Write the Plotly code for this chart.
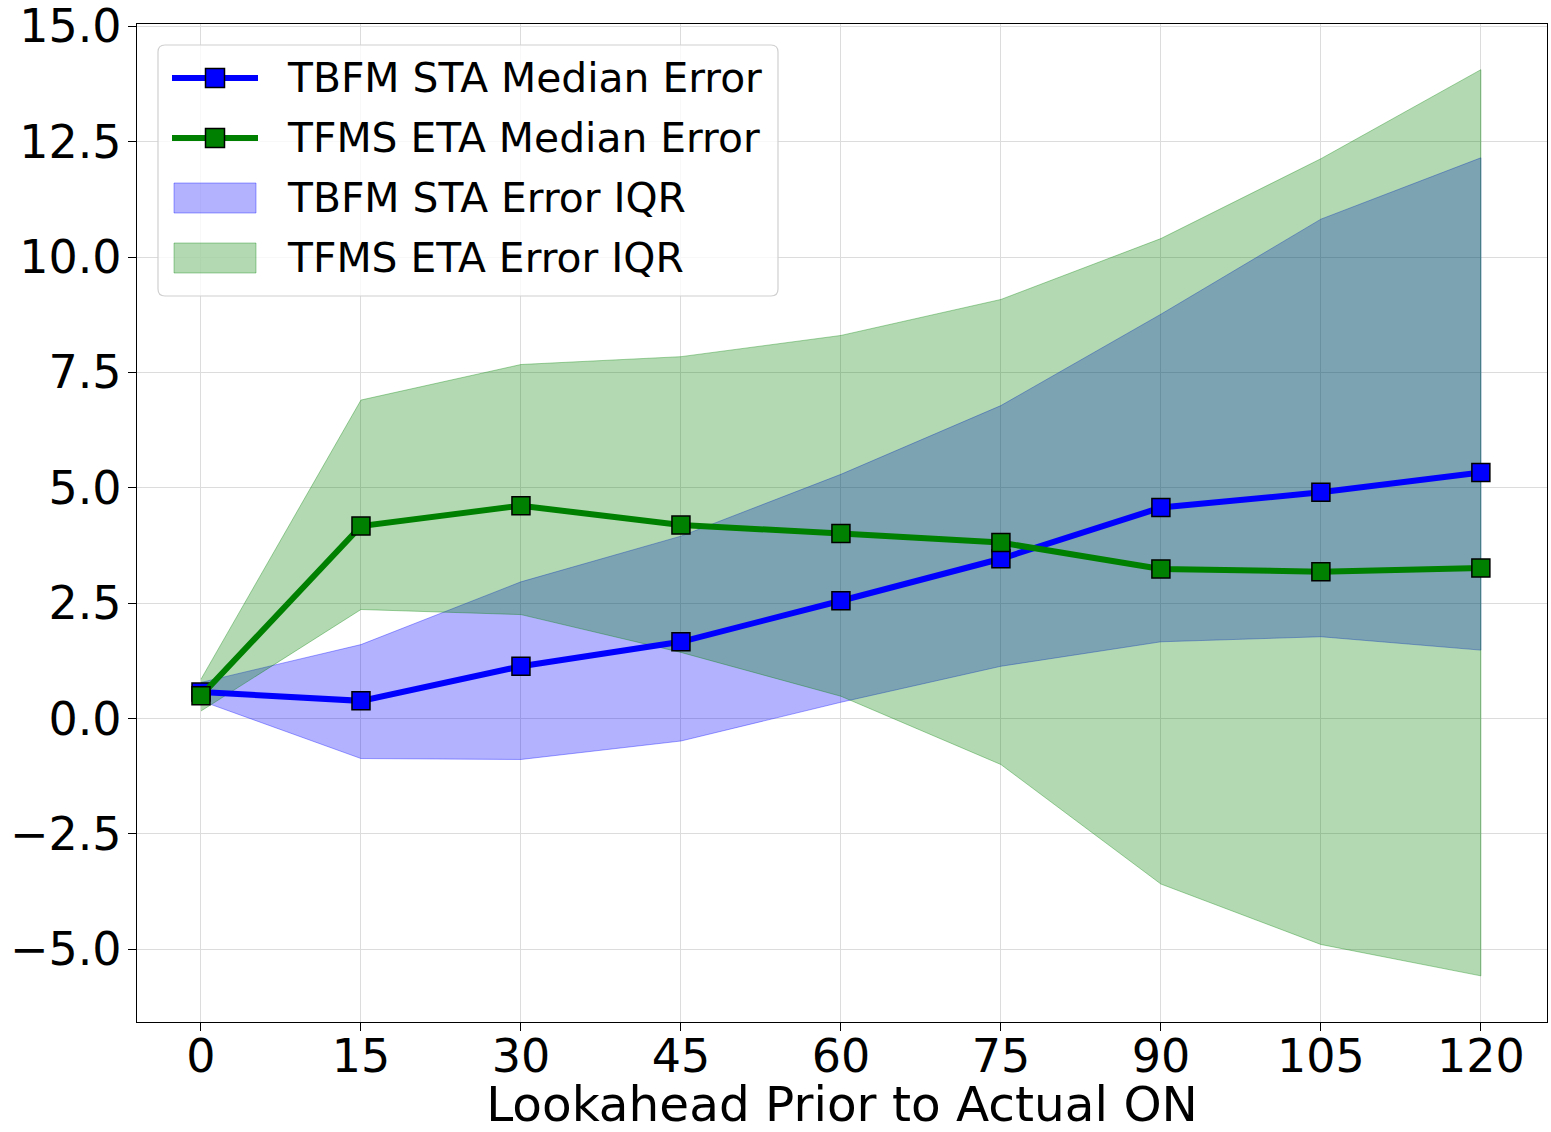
import plotly.graph_objects as go

lookahead = [0, 15, 30, 45, 60, 75, 90, 105, 120]

tbfm_median = [0.57, 0.38, 1.13, 1.66, 2.55, 3.46, 4.57, 4.90, 5.33]
tfms_median = [0.49, 4.17, 4.61, 4.19, 4.01, 3.81, 3.24, 3.18, 3.26]

tbfm_q1 = [0.38, -0.87, -0.89, -0.49, 0.35, 1.13, 1.66, 1.77, 1.48]
tbfm_q3 = [0.78, 1.60, 2.96, 3.95, 5.29, 6.78, 8.76, 10.82, 12.15]

tfms_q1 = [0.16, 2.36, 2.25, 1.43, 0.48, -1.00, -3.59, -4.90, -5.58]
tfms_q3 = [0.85, 6.90, 7.67, 7.84, 8.30, 9.08, 10.40, 12.13, 14.06]

x_ticks = [0, 15, 30, 45, 60, 75, 90, 105, 120]
y_ticks = [-5.0, -2.5, 0.0, 2.5, 5.0, 7.5, 10.0, 12.5, 15.0]

legend_labels = ["TBFM STA Median Error", "TFMS ETA Median Error",
                 "TBFM STA Error IQR", "TFMS ETA Error IQR"]

FONT = "DejaVu Sans"
BLUE = "#0000ff"
GREEN = "#008000"
BLUE_FILL = "rgba(0,0,255,0.3)"
GREEN_FILL = "rgba(0,128,0,0.3)"

W, H = 1551, 1132
ML, MR, MT, MB = 137, 4, 24, 110
PW, PH = W - ML - MR, H - MT - MB


def px(x):
    return (x - ML) / PW


def py(y):
    return (H - MB - y) / PH


fig = go.Figure()

# IQR bands (blue first, green over it)
fig.add_trace(go.Scatter(
    x=lookahead + lookahead[::-1],
    y=tbfm_q3 + tbfm_q1[::-1],
    fill="toself", mode="lines",
    fillcolor=BLUE_FILL,
    line=dict(color="rgba(0,0,255,0.35)", width=1),
    name=legend_labels[2], showlegend=False,
))
fig.add_trace(go.Scatter(
    x=lookahead + lookahead[::-1],
    y=tfms_q3 + tfms_q1[::-1],
    fill="toself", mode="lines",
    fillcolor=GREEN_FILL,
    line=dict(color="rgba(0,128,0,0.35)", width=1),
    name=legend_labels[3], showlegend=False,
))

# Median lines
fig.add_trace(go.Scatter(
    x=lookahead, y=tbfm_median, mode="lines+markers",
    line=dict(color=BLUE, width=6),
    marker=dict(symbol="square", size=18, color=BLUE,
                line=dict(color="black", width=1.5)),
    name=legend_labels[0], showlegend=False,
))
fig.add_trace(go.Scatter(
    x=lookahead, y=tfms_median, mode="lines+markers",
    line=dict(color=GREEN, width=6),
    marker=dict(symbol="square", size=18, color=GREEN,
                line=dict(color="black", width=1.5)),
    name=legend_labels[1], showlegend=False,
))

# ---- legend drawn with shapes + annotations (matplotlib style) ----
shapes = []
bx0, bx1, by0, by1, r = 158, 778, 45, 296, 7
path = (f"M {px(bx0 + r)},{py(by0)} L {px(bx1 - r)},{py(by0)} "
        f"Q {px(bx1)},{py(by0)} {px(bx1)},{py(by0 + r)} "
        f"L {px(bx1)},{py(by1 - r)} Q {px(bx1)},{py(by1)} {px(bx1 - r)},{py(by1)} "
        f"L {px(bx0 + r)},{py(by1)} Q {px(bx0)},{py(by1)} {px(bx0)},{py(by1 - r)} "
        f"L {px(bx0)},{py(by0 + r)} Q {px(bx0)},{py(by0)} {px(bx0 + r)},{py(by0)} Z")
shapes.append(dict(type="path", xref="paper", yref="paper", path=path,
                   fillcolor="rgba(255,255,255,0.8)",
                   line=dict(color="#d0d0d0", width=1.2), layer="above"))

rows = [78, 138, 198, 258]
line_colors = [BLUE, GREEN]
for i in range(2):
    yy = rows[i]
    shapes.append(dict(type="line", xref="paper", yref="paper",
                       x0=px(172), x1=px(258), y0=py(yy), y1=py(yy),
                       line=dict(color=line_colors[i], width=6), layer="above"))
    s = 9.5
    shapes.append(dict(type="rect", xref="paper", yref="paper",
                       x0=px(215 - s), x1=px(215 + s), y0=py(yy + s), y1=py(yy - s),
                       fillcolor=line_colors[i], line=dict(color="black", width=1.5),
                       layer="above"))
fill_cols = [(BLUE_FILL, "rgba(0,0,255,0.35)"), (GREEN_FILL, "rgba(0,128,0,0.35)")]
for j in range(2):
    yy = rows[2 + j]
    shapes.append(dict(type="rect", xref="paper", yref="paper",
                       x0=px(174), x1=px(256), y0=py(yy + 15), y1=py(yy - 15),
                       fillcolor=fill_cols[j][0], line=dict(color=fill_cols[j][1], width=1),
                       layer="above"))

annotations = []
for i, lab in enumerate(legend_labels):
    annotations.append(dict(
        text=lab, xref="paper", yref="paper", x=px(285), y=py(rows[i]),
        xanchor="left", yanchor="middle", showarrow=False,
        font=dict(family=FONT, size=40.8, color="black"),
    ))

annotations.append(dict(
    text="10", xref="paper", yref="paper", x=1.0, y=-0.118,
    xanchor="right", yanchor="top", showarrow=False,
    font=dict(family=FONT, size=20, color="#888888"),
))

fig.update_layout(
    width=W, height=H,
    margin=dict(l=ML, r=MR, t=MT, b=MB, autoexpand=False),
    paper_bgcolor="white", plot_bgcolor="white",
    font=dict(family=FONT, color="black"),
    showlegend=False,
    shapes=shapes, annotations=annotations,
    xaxis=dict(
        range=[-6, 126.2], tickvals=x_ticks, ticktext=[str(v) for v in x_ticks],
        showgrid=True, gridcolor="#dcdcdc", gridwidth=1,
        zeroline=False, showline=True, linecolor="black", linewidth=1.3, mirror=True,
        ticks="outside", ticklen=8, tickcolor="black",
        tickfont=dict(family=FONT, size=46, color="black"),
        title=dict(text="Lookahead Prior to Actual ON",
                   font=dict(family=FONT, size=48.5, color="black"), standoff=22),
        automargin=False, ticklabeloverflow="allow",
    ),
    yaxis=dict(
        range=[-6.58, 15.05], tickvals=y_ticks, tickformat=".1f",
        showgrid=True, gridcolor="#dcdcdc", gridwidth=1,
        zeroline=False, showline=True, linecolor="black", linewidth=1.3, mirror=True,
        ticks="outside", ticklen=8, tickcolor="black",
        tickfont=dict(family=FONT, size=46, color="black"),
        automargin=False, ticklabeloverflow="allow",
    ),
)

try:
    fig.update_xaxes(ticklabelstandoff=-14)
    fig.update_yaxes(ticklabelstandoff=-3)
except Exception:
    pass

fig.write_html("out.html")
